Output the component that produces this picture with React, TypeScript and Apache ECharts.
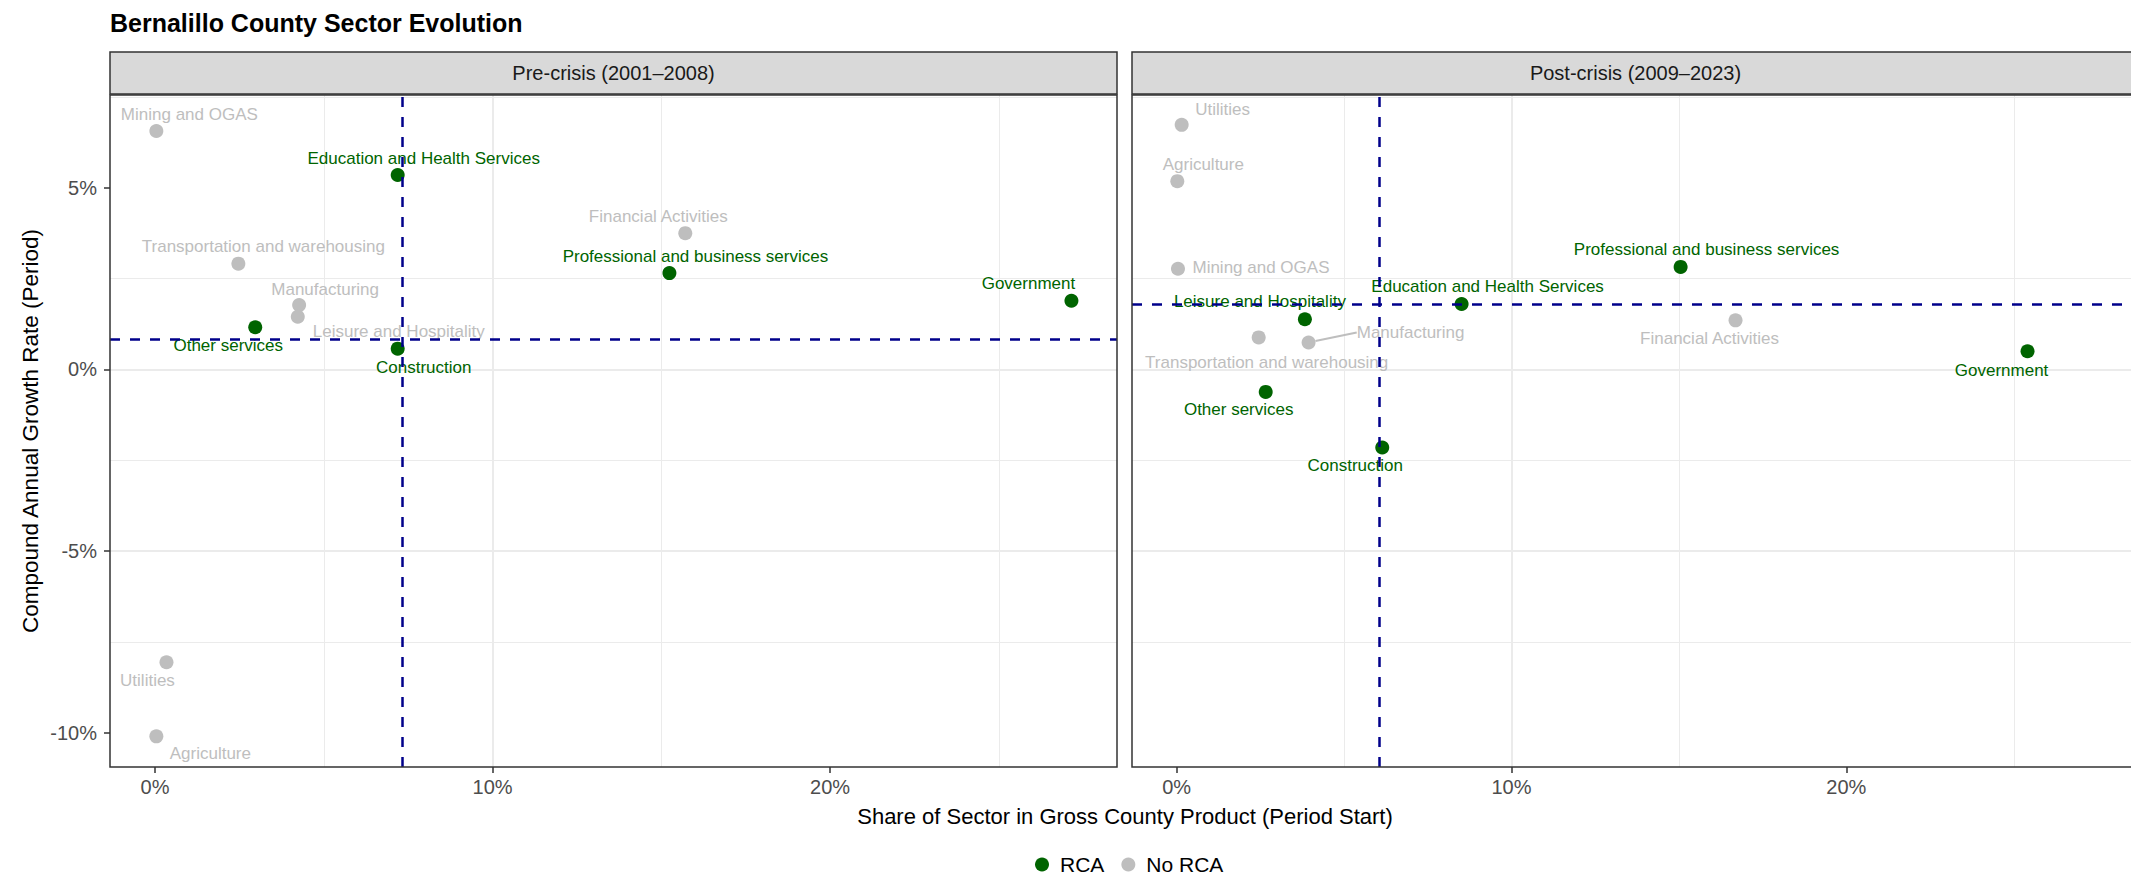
import React, { useEffect, useRef } from "react";
import * as echarts from "echarts";

// ---------------- data ----------------
const sectors = [
  "Agriculture",
  "Mining and OGAS",
  "Utilities",
  "Construction",
  "Manufacturing",
  "Transportation and warehousing",
  "Financial Activities",
  "Professional and business services",
  "Education and Health Services",
  "Leisure and Hospitality",
  "Other services",
  "Government",
];

// Pre-crisis (2001–2008): share of GCP at period start (%), CAGR (%)
const preShare = [0.04, 0.04, 0.34, 7.19, 4.27, 2.47, 15.71, 15.24, 7.19, 4.23, 2.97, 27.15];
const preGrowth = [-10.1, 6.56, -8.06, 0.57, 1.77, 2.91, 3.75, 2.65, 5.35, 1.45, 1.16, 1.89];
const preRCA = [false, false, false, true, false, false, false, true, true, false, true, true];

// Post-crisis (2009–2023)
const postShare = [0.02, 0.04, 0.15, 6.14, 3.94, 2.45, 16.69, 15.05, 8.51, 3.83, 2.66, 25.41];
const postGrowth = [5.18, 2.77, 6.73, -2.15, 0.74, 0.88, 1.35, 2.82, 1.8, 1.38, -0.62, 0.5];
const postRCA = [false, false, false, true, false, false, false, true, true, true, true, true];

// reference lines (dashed)
const medianShare = [7.32, 6.06];
const medianGrowth = [0.83, 1.79];

const xTicks = [0, 10, 20];
const yTicks = [-10, -5, 0, 5];
const panelTitles = ["Pre-crisis (2001–2008)", "Post-crisis (2009–2023)"];
const legendNames = ["RCA", "No RCA"];

// ---------------- styling ----------------
const GREEN = "#006400";
const GREY = "#BEBEBE";
const NAVY = "#00008B";
const FONT = "'Liberation Sans', Arial, Helvetica, sans-serif";

// label placement (pixel offsets of label centre from the point), like ggrepel output
const preLabelOffsets: [number, number][] = [
  [54, 17], [33, -17], [-19, 18], [26, 19], [26, -16], [25, -17],
  [-27, -17], [26, -17], [26, -17], [101, 15], [-27, 18], [-43, -17],
];
const postLabelOffsets: [number, number][] = [
  [26, -17], [83, -1], [41, -15], [-27, 18], [102, -10], [8, 25],
  [-26, 18], [26, -17], [26, -17], [-45, -18], [-27, 18], [-26, 19],
];
const postConnector = 4; // Manufacturing label has a segment in the post panel

const GRID_TOP = 95;
const GRID_H = 672;
const GRID_W = 1007;
const GRID_LEFTS = [110, 1132];
const X_MIN = -1.333;
const X_MAX = 28.5;
const Y_MIN = -10.944;
const Y_MAX = 7.552;

function panelSeries(
  i: number,
  share: number[],
  growth: number[],
  rca: boolean[],
  offsets: [number, number][],
  connector: number
) {
  return {
    type: "scatter",
    xAxisIndex: i,
    yAxisIndex: i,
    symbolSize: 14,
    z: 3,
    silent: true,
    data: sectors.map((s, k) => ({
      name: s,
      value: [share[k], growth[k]],
      itemStyle: { color: rca[k] ? GREEN : GREY, opacity: 1 },
      label: { color: rca[k] ? GREEN : GREY },
      labelLine:
        k === connector
          ? { show: true, lineStyle: { color: GREY, width: 2 } }
          : { show: false },
    })),
    label: {
      show: true,
      position: "inside",
      formatter: "{b}",
      fontSize: 17,
      fontFamily: FONT,
    },
    labelLine: { show: false },
    labelLayout: (p: any) => {
      const o = offsets[p.dataIndex];
      return {
        x: p.rect.x + p.rect.width / 2 + o[0],
        y: p.rect.y + p.rect.height / 2 + o[1],
        align: "center",
        verticalAlign: "middle",
      };
    },
    emphasis: { disabled: true },
  };
}

function refLineSeries(i: number) {
  return {
    type: "scatter",
    xAxisIndex: i,
    yAxisIndex: i,
    data: [],
    z: 2,
    silent: true,
    markLine: {
      silent: true,
      symbol: "none",
      label: { show: false },
      lineStyle: { color: NAVY, type: [10, 10], width: 2.5 },
      emphasis: { disabled: true },
      data: [{ xAxis: medianShare[i] }, { yAxis: medianGrowth[i] }],
    },
  };
}

export default function App() {
  const ref = useRef<HTMLDivElement>(null);

  useEffect(() => {
    document.body.style.margin = "0";
    if (!ref.current) return;
    const chart = echarts.init(ref.current, undefined, { renderer: "svg" });

    const grids = GRID_LEFTS.map((l) => ({
      left: l,
      top: GRID_TOP,
      width: GRID_W,
      height: GRID_H,
      show: false,
    }));

    const xAxes = [0, 1].map((i) => ({
      type: "value",
      gridIndex: i,
      position: "bottom",
      min: X_MIN,
      max: X_MAX,
      splitNumber: 3,
      axisLine: { show: false, onZero: false },
      axisTick: {
        show: true,
        length: 6,
        lineStyle: { color: "#333333", width: 1.5 },
        customValues: xTicks,
      },
      axisLabel: {
        fontSize: 20,
        color: "#4D4D4D",
        fontFamily: FONT,
        margin: 10,
        customValues: xTicks,
        formatter: (v: number) => `${v}%`,
      },
      splitLine: {
        show: true,
        showMinLine: false,
        showMaxLine: false,
        lineStyle: { color: "#EBEBEB", width: 2 },
      },
      minorTick: { show: false, splitNumber: 2 },
      minorSplitLine: { show: true, lineStyle: { color: "#EBEBEB", width: 1 } },
    }));

    const yAxes = [0, 1].map((i) => ({
      type: "value",
      gridIndex: i,
      position: "left",
      min: Y_MIN,
      max: Y_MAX,
      splitNumber: 4,
      name: i === 0 ? "Compound Annual Growth Rate (Period)" : "",
      nameLocation: "middle",
      nameGap: 68,
      nameRotate: 90,
      nameTextStyle: { fontSize: 22.5, color: "#000000", fontFamily: FONT },
      axisLine: { show: false, onZero: false },
      axisTick: {
        show: i === 0,
        length: 6,
        lineStyle: { color: "#333333", width: 1.5 },
        customValues: yTicks,
      },
      axisLabel: {
        show: i === 0,
        fontSize: 20,
        color: "#4D4D4D",
        fontFamily: FONT,
        margin: 13,
        customValues: yTicks,
        formatter: (v: number) => `${v}%`,
      },
      splitLine: {
        show: true,
        showMinLine: false,
        showMaxLine: false,
        lineStyle: { color: "#EBEBEB", width: 2 },
      },
      minorTick: { show: false, splitNumber: 2 },
      minorSplitLine: { show: true, lineStyle: { color: "#EBEBEB", width: 1 } },
    }));

    const graphic: any[] = [
      {
        type: "text",
        left: 110,
        top: 10,
        style: {
          text: "Bernalillo County Sector Evolution",
          fontSize: 25,
          fontWeight: "bold",
          fill: "#000000",
          fontFamily: FONT,
        },
      },
      {
        type: "text",
        x: 1125,
        y: 816,
        style: {
          text: "Share of Sector in Gross County Product (Period Start)",
          fontSize: 22,
          fill: "#000000",
          fontFamily: FONT,
          align: "center",
          verticalAlign: "middle",
        },
      },
    ];
    GRID_LEFTS.forEach((l, i) => {
      graphic.push({
        type: "rect",
        shape: { x: l, y: 52, width: GRID_W, height: 42 },
        style: { fill: "#D9D9D9", stroke: "#333333", lineWidth: 1.5 },
        z: 10,
        silent: true,
      });
      graphic.push({
        type: "text",
        x: l + GRID_W / 2,
        y: 73,
        z: 11,
        style: {
          text: panelTitles[i],
          fontSize: 20,
          fill: "#1A1A1A",
          fontFamily: FONT,
          align: "center",
          verticalAlign: "middle",
        },
        silent: true,
      });
      graphic.push({
        type: "rect",
        shape: { x: l, y: GRID_TOP, width: GRID_W, height: GRID_H },
        style: { fill: "none", stroke: "#333333", lineWidth: 1.5 },
        z: 10,
        silent: true,
      });
    });

    const option: any = {
      animation: false,
      backgroundColor: "#FFFFFF",
      textStyle: { fontFamily: FONT },
      grid: grids,
      xAxis: xAxes,
      yAxis: yAxes,
      legend: {
        data: legendNames,
        left: 1035,
        top: 854,
        padding: 0,
        icon: "circle",
        itemWidth: 26,
        itemHeight: 14,
        itemGap: 17,
        selectedMode: false,
        itemStyle: { opacity: 1 },
        textStyle: { fontSize: 21, lineHeight: 21, color: "#000000", fontFamily: FONT },
      },
      graphic,
      series: [
        refLineSeries(0),
        refLineSeries(1),
        panelSeries(0, preShare, preGrowth, preRCA, preLabelOffsets, -1),
        panelSeries(1, postShare, postGrowth, postRCA, postLabelOffsets, postConnector),
        { type: "scatter", name: legendNames[0], data: [], itemStyle: { color: GREEN, opacity: 1 } },
        { type: "scatter", name: legendNames[1], data: [], itemStyle: { color: GREY, opacity: 1 } },
      ],
    };

    chart.setOption(option);
    return () => chart.dispose();
  }, []);

  return (
    <div
      ref={ref}
      style={{ position: "absolute", left: 0, top: 0, width: 2131, height: 878 }}
    />
  );
}
